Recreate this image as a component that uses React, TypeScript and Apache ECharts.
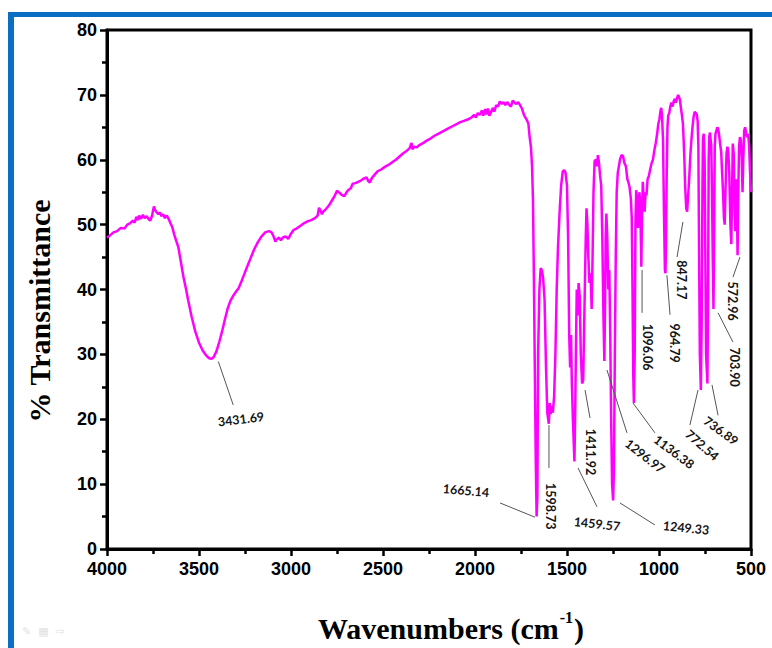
import React, { useEffect, useRef } from "react";
import * as echarts from "echarts";

// FT-IR spectrum: [wavenumber (cm-1), % transmittance]
const spectrum: [number, number][] = [
  [4000, 48.0], [3985, 48.3], [3965, 48.8], [3945, 49.0], [3925, 49.5], [3905, 49.4], [3890, 50.0],
  [3875, 50.2], [3860, 50.6], [3850, 50.3], [3840, 51.2], [3832, 50.7], [3825, 51.4], [3815, 50.9],
  [3805, 51.5], [3795, 51.0], [3785, 51.3], [3775, 50.9], [3765, 50.6], [3755, 51.4], [3745, 52.8],
  [3738, 52.2], [3730, 51.9], [3720, 51.6], [3712, 51.9], [3705, 51.3], [3695, 51.6], [3685, 51.0],
  [3675, 51.4], [3665, 50.9], [3655, 50.2], [3645, 49.6], [3635, 48.5], [3625, 47.6], [3612, 46.5],
  [3600, 44.5], [3585, 42.0], [3570, 40.0], [3560, 38.5], [3540, 35.8], [3520, 33.5], [3500, 31.8],
  [3480, 30.6], [3460, 29.8], [3445, 29.4], [3432, 29.3], [3420, 29.6], [3405, 30.5], [3390, 31.9],
  [3375, 33.5], [3360, 35.3], [3345, 37.0], [3330, 38.2], [3315, 39.0], [3300, 39.6], [3285, 40.2],
  [3270, 41.2], [3255, 42.3], [3240, 43.4], [3220, 44.8], [3200, 46.2], [3180, 47.3], [3160, 48.2],
  [3140, 48.8], [3120, 49.0], [3105, 48.8], [3095, 48.2], [3085, 47.4], [3075, 47.8], [3065, 48.0],
  [3055, 47.6], [3045, 48.0], [3030, 48.2], [3015, 47.8], [3000, 48.6], [2985, 49.2], [2970, 49.4],
  [2950, 49.8], [2930, 50.2], [2910, 50.5], [2890, 50.7], [2870, 51.0], [2855, 51.4], [2848, 52.6],
  [2840, 52.2], [2832, 51.6], [2825, 52.0], [2810, 52.4], [2795, 52.9], [2780, 53.6], [2765, 54.3],
  [2750, 55.2], [2740, 55.0], [2725, 54.6], [2710, 54.4], [2700, 54.9], [2690, 55.3], [2675, 55.6],
  [2665, 56.3], [2650, 56.4], [2635, 56.6], [2620, 56.8], [2605, 57.1], [2590, 57.3], [2580, 56.7],
  [2572, 56.5], [2560, 57.2], [2545, 57.7], [2530, 58.2], [2510, 58.5], [2490, 58.9], [2470, 59.2],
  [2450, 59.6], [2430, 60.0], [2410, 60.5], [2390, 61.0], [2370, 61.4], [2355, 61.8], [2345, 62.6],
  [2340, 61.6], [2330, 62.0], [2318, 61.9], [2300, 62.3], [2280, 62.6], [2260, 63.0], [2240, 63.3],
  [2220, 63.7], [2200, 64.0], [2180, 64.3], [2160, 64.6], [2140, 64.9], [2120, 65.2], [2100, 65.5],
  [2080, 65.8], [2060, 66.0], [2040, 66.2], [2020, 66.5], [2005, 66.9], [1995, 66.5], [1985, 67.2],
  [1975, 66.9], [1962, 67.6], [1955, 66.8], [1945, 67.8], [1938, 67.0], [1930, 67.9], [1922, 66.8],
  [1912, 67.4], [1902, 68.0], [1895, 67.4], [1885, 68.4], [1875, 68.2], [1865, 69.0], [1855, 68.6],
  [1845, 68.9], [1835, 68.4], [1825, 68.9], [1815, 68.5], [1805, 68.2], [1795, 69.1], [1785, 68.8],
  [1775, 68.6], [1765, 68.9], [1755, 68.4], [1745, 67.9], [1735, 67.0], [1728, 66.6], [1718, 66.1],
  [1710, 65.6], [1703, 63.5], [1696, 62.0], [1690, 59.0], [1685, 54.0], [1680, 42.0], [1675, 28.0],
  [1670, 14.0], [1665.14, 5.0], [1661, 8.0], [1657, 30.0], [1650, 40.0], [1643, 43.3], [1637, 43.0],
  [1630, 41.8], [1622, 38.5], [1614, 28.0], [1607, 21.0], [1598.73, 19.3], [1594, 22.5], [1589, 20.8],
  [1583, 22.0], [1577, 21.0], [1570, 23.5], [1563, 30.0], [1556, 40.0], [1549, 46.5], [1540, 52.0],
  [1532, 56.0], [1523, 58.2], [1515, 58.4], [1508, 58.0], [1500, 56.0], [1494, 48.0], [1488, 33.0],
  [1483, 28.0], [1478, 33.0], [1474, 26.0], [1468, 20.0], [1459.57, 13.5], [1455, 22.0], [1451, 32.0],
  [1447, 40.0], [1442, 36.0], [1437, 41.0], [1431, 39.0], [1425, 30.0], [1418, 25.5], [1411.92, 26.0],
  [1407, 34.0], [1402, 42.0], [1398, 48.0], [1394, 52.5], [1389, 50.0], [1384, 45.0], [1378, 41.0],
  [1372, 42.5], [1366, 37.0], [1361, 45.0], [1356, 55.0], [1350, 59.8], [1343, 60.0], [1338, 59.0],
  [1332, 60.7], [1326, 59.5], [1320, 57.5], [1314, 56.0], [1308, 48.0], [1302, 36.0], [1296.97, 29.0],
  [1293, 38.0], [1290, 48.0], [1286, 51.7], [1281, 48.0], [1276, 40.0], [1270, 43.0], [1265, 33.0],
  [1260, 20.0], [1255, 10.0], [1249.33, 7.5], [1245, 12.0], [1240, 30.0], [1235, 45.0], [1230, 55.0],
  [1224, 58.0], [1218, 59.0], [1212, 60.0], [1204, 60.7], [1196, 60.6], [1188, 59.5], [1180, 59.0],
  [1172, 57.0], [1166, 56.5], [1160, 55.8], [1153, 54.0], [1148, 51.0], [1144, 40.0], [1140, 27.0],
  [1136.38, 22.5], [1132, 30.0], [1128, 50.0], [1124, 55.3], [1119, 54.0], [1114, 49.5], [1110, 53.5],
  [1106, 55.0], [1101, 52.0], [1096.06, 43.5], [1092, 52.0], [1088, 56.6], [1083, 54.0], [1078, 52.0],
  [1073, 55.0], [1068, 54.5], [1062, 57.0], [1055, 57.5], [1048, 58.5], [1040, 59.5], [1033, 60.0],
  [1025, 61.5], [1018, 62.5], [1010, 64.0], [1004, 65.5], [998, 66.2], [992, 67.5], [988, 68.0],
  [984, 67.0], [978, 63.0], [973, 52.0], [968, 43.0], [964.79, 42.5], [962, 47.0], [958, 58.0],
  [954, 65.0], [950, 66.8], [944, 67.2], [938, 68.3], [932, 68.8], [926, 68.2], [920, 69.0],
  [914, 69.4], [908, 68.8], [902, 69.5], [896, 70.0], [890, 69.6], [886, 69.2], [881, 68.0],
  [876, 67.0], [870, 65.6], [866, 63.0], [862, 60.0], [858, 56.0], [852, 52.5], [847.17, 52.0],
  [842, 54.3], [836, 57.0], [830, 60.5], [824, 63.0], [818, 65.0], [812, 66.6], [806, 67.4],
  [800, 67.2], [795, 67.0], [790, 66.0], [786, 62.0], [782, 45.0], [778, 30.0], [772.54, 24.5],
  [768, 35.0], [764, 55.0], [761, 63.3], [757, 64.0], [752, 60.0], [748, 45.0], [744, 30.0],
  [736.89, 25.5], [733, 40.0], [730, 60.0], [727, 63.5], [723, 64.2], [719, 63.0], [716, 62.3],
  [712, 55.0], [708, 45.0], [703.9, 37.0], [700, 50.0], [697, 62.0], [693, 64.0], [688, 64.5],
  [683, 65.0], [679, 64.8], [674, 64.0], [668, 62.5], [662, 61.2], [657, 58.0], [652, 55.0],
  [647, 51.0], [643, 50.0], [638, 56.0], [633, 61.0], [628, 62.0], [623, 61.0], [618, 58.0],
  [612, 50.0], [607, 47.0], [603, 55.0], [599, 62.5], [594, 61.0], [589, 52.0], [585, 49.0],
  [580, 57.0], [576, 52.0], [572.96, 45.3], [569, 55.0], [565, 62.0], [560, 63.5], [555, 63.0],
  [550, 60.0], [546, 55.0], [542, 60.0], [537, 64.5], [532, 65.0], [526, 64.0], [520, 63.5],
  [515, 64.0], [510, 62.0], [505, 58.0], [500, 55.0],
];

// Peak annotations: label, leader line (data coords), label anchor (data coords), rotation (deg, ccw)
const peakLabels = ["3431.69", "1665.14", "1598.73", "1459.57", "1411.92", "1296.97", "1249.33", "1136.38", "1096.06", "964.79", "847.17", "772.54", "736.89", "703.90", "572.96"];
const leaderStart: [number, number][] = [
  [3395, 28.9], [1864, 7.1], [1598, 19.1], [1440, 12.5], [1402, 24.5], [1283, 27.6], [1212, 7.1],
  [1141, 22.5], [1092, 43.0], [957, 42.2], [870, 50.4], [788, 24.5], [712, 25.3], [679, 36.4], [560, 45.0],
];
const leaderEnd: [number, number][] = [
  [3314, 22.2], [1674, 4.9], [1598, 12.5], [1337, 6.5], [1375, 20.2], [1174, 17.9], [1022, 3.7],
  [1022, 17.9], [1092, 36.4], [940, 36.1], [902, 45.0], [832, 19.1], [679, 20.6], [598, 31.9], [598, 41.9],
];
const labelAnchor: [number, number][] = [
  [3272, 20.0], [2049, 9.0], [1592, 6.6], [1337, 3.85], [1375, 14.95], [1076, 14.3], [853, 3.25],
  [918, 14.95], [1060, 31.1], [918, 31.75], [880, 41.5], [766, 16.0], [663, 18.2], [587, 28.05], [598, 38.2],
];
const labelRotation = [7, -5, -90, -6, -90, -38, -6, -37, -90, -90, -90, -41, -36, -90, -90];

const xTicks = { min: 500, max: 4000, interval: 500 };
const yTicks = { min: 0, max: 80, interval: 10 };

const tickFont = "'Liberation Sans', Arial, sans-serif";
const serifFont = "'Liberation Serif', 'Times New Roman', serif";

export default function App() {
  const ref = useRef<HTMLDivElement>(null);

  useEffect(() => {
    if (!ref.current) return;
    const chart = echarts.init(ref.current, undefined, { renderer: "svg" });

    const frame: any[] = [
      { type: "rect", id: "blueLeft", shape: { x: 8, y: 12, width: 6, height: 640 }, style: { fill: "#0A6FC2" }, z: 10 },
      { type: "rect", id: "blueTop", shape: { x: 8, y: 12, width: 770, height: 5 }, style: { fill: "#0A6FC2" }, z: 10 },
      {
        type: "text", id: "yName", x: 39, y: 311, rotation: Math.PI / 2,
        style: { text: "% Transmittance", font: `bold 30px ${serifFont}`, fill: "#000", align: "center", verticalAlign: "middle" },
      },
      {
        type: "text", id: "xName", x: 451, y: 626,
        style: {
          text: "{a|Wavenumbers (cm}{b|-1}{a|)}",
          align: "center", verticalAlign: "middle",
          rich: {
            a: { font: `bold 30px ${serifFont}`, fill: "#000", lineHeight: 34, verticalAlign: "bottom" },
            b: { font: `bold 16px ${serifFont}`, fill: "#000", lineHeight: 34, verticalAlign: "top", padding: [0, 1, 0, 1] },
          },
        },
      },
      { type: "text", id: "ic1", x: 22, y: 626, style: { text: "✎  ▦  ⇨", font: "11px 'DejaVu Sans'", fill: "#e2e2e2" } },
    ];

    chart.setOption({
      animation: false,
      grid: { left: 107, right: 21, top: 30, bottom: 99, show: true, borderColor: "#000", borderWidth: 3 },
      xAxis: {
        type: "value", inverse: true, min: xTicks.min, max: xTicks.max, interval: xTicks.interval,
        axisLine: { show: true, onZero: false, lineStyle: { color: "#000", width: 3 } },
        axisTick: { show: true, length: 7, lineStyle: { color: "#000", width: 2.5 } },
        minorTick: { show: true, splitNumber: 2, length: 5, lineStyle: { color: "#000", width: 2.5 } },
        splitLine: { show: false },
        axisLabel: { color: "#000", fontWeight: "bold", fontSize: 18, fontFamily: tickFont, margin: 11, formatter: (v: number) => String(v) },
      },
      yAxis: {
        type: "value", min: yTicks.min, max: yTicks.max, interval: yTicks.interval,
        axisLine: { show: true, onZero: false, lineStyle: { color: "#000", width: 3 } },
        axisTick: { show: true, length: 7, lineStyle: { color: "#000", width: 2.5 } },
        minorTick: { show: true, splitNumber: 2, length: 5, lineStyle: { color: "#000", width: 2.5 } },
        splitLine: { show: false },
        axisLabel: { color: "#000", fontWeight: "bold", fontSize: 18, fontFamily: tickFont, margin: 10, formatter: (v: number) => String(v) },
      },
      series: [
        {
          type: "line", data: spectrum, symbol: "none", showSymbol: false,
          lineStyle: { color: "#FF00FF", width: 2.5 }, itemStyle: { color: "#FF00FF" }, z: 3,
        },
      ],
      graphic: frame,
    });

    const toPx = (p: [number, number]) => chart.convertToPixel({ gridIndex: 0 }, p) as number[];
    const ann: any[] = [];
    peakLabels.forEach((label, i) => {
      const a = toPx(leaderStart[i]);
      const b = toPx(leaderEnd[i]);
      const c = toPx(labelAnchor[i]);
      ann.push({
        type: "line", id: `lead${i}`, shape: { x1: a[0], y1: a[1], x2: b[0], y2: b[1] },
        style: { stroke: "#555", lineWidth: 1 }, z: 20,
      });
      ann.push({
        type: "text", id: `lab${i}`, x: c[0], y: c[1], rotation: (labelRotation[i] * Math.PI) / 180,
        style: { text: label, font: "bold 12.5px Lato, 'Open Sans', sans-serif", fill: "#151515", align: "center", verticalAlign: "middle" },
        z: 20,
      });
    });
    chart.setOption({ graphic: [...frame, ...ann] });

    return () => chart.dispose();
  }, []);

  return <div ref={ref} style={{ position: "fixed", left: 0, top: 0, width: 772, height: 648, background: "#fff" }} />;
}
